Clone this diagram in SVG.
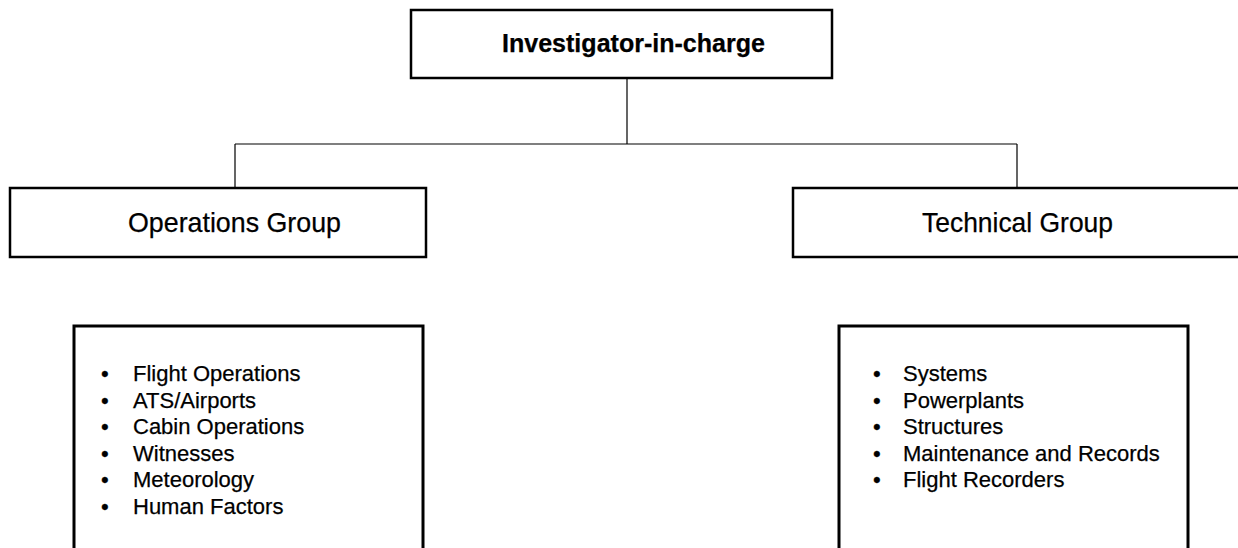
<svg xmlns="http://www.w3.org/2000/svg" width="1238" height="548" viewBox="0 0 1238 548">
<style>
.box{fill:#fff;stroke:#000;stroke-width:2.5}
.list{fill:#fff;stroke:#000;stroke-width:3}
.conn{fill:none;stroke:#000;stroke-width:1.2}
.t{font-family:"Liberation Sans",Arial,sans-serif;fill:#000;stroke:#000;stroke-width:0.25}
.title{font-size:25px;font-weight:bold}
.grp{font-size:28.5px}
.item{font-size:22px}
</style>
<rect width="1238" height="548" fill="#fff"/>
<g id="connectors">
<path class="conn" d="M627 78V144M235 144H1017M235 144V188M1017 144V188"/>
</g>
<g id="investigator">
<rect class="box" x="411" y="10" width="421" height="68"/>
<text class="t title" x="502" y="52" textLength="263" lengthAdjust="spacingAndGlyphs">Investigator-in-charge</text>
</g>
<g id="operations">
<rect class="box" x="10" y="188" width="416" height="69"/>
<text class="t grp" x="128" y="232" textLength="213" lengthAdjust="spacingAndGlyphs">Operations Group</text>
</g>
<g id="technical">
<rect class="box" x="793" y="188" width="450" height="69"/>
<text class="t grp" x="922" y="232" textLength="191" lengthAdjust="spacingAndGlyphs">Technical Group</text>
</g>
<g id="operations-list">
<rect class="list" x="74" y="326" width="349" height="240"/>
<text class="t item"><tspan x="101" y="381">•</tspan><tspan x="133" y="381">Flight Operations</tspan><tspan x="101" y="407.5">•</tspan><tspan x="133" y="407.5">ATS/Airports</tspan><tspan x="101" y="434">•</tspan><tspan x="133" y="434">Cabin Operations</tspan><tspan x="101" y="460.5">•</tspan><tspan x="133" y="460.5">Witnesses</tspan><tspan x="101" y="487">•</tspan><tspan x="133" y="487">Meteorology</tspan><tspan x="101" y="513.5">•</tspan><tspan x="133" y="513.5">Human Factors</tspan></text>
</g>
<g id="technical-list">
<rect class="list" x="839" y="326" width="349" height="240"/>
<text class="t item"><tspan x="873" y="381">•</tspan><tspan x="903" y="381">Systems</tspan><tspan x="873" y="407.5">•</tspan><tspan x="903" y="407.5">Powerplants</tspan><tspan x="873" y="434">•</tspan><tspan x="903" y="434">Structures</tspan><tspan x="873" y="460.5">•</tspan><tspan x="903" y="460.5">Maintenance and Records</tspan><tspan x="873" y="487">•</tspan><tspan x="903" y="487">Flight Recorders</tspan></text>
</g>
</svg>
